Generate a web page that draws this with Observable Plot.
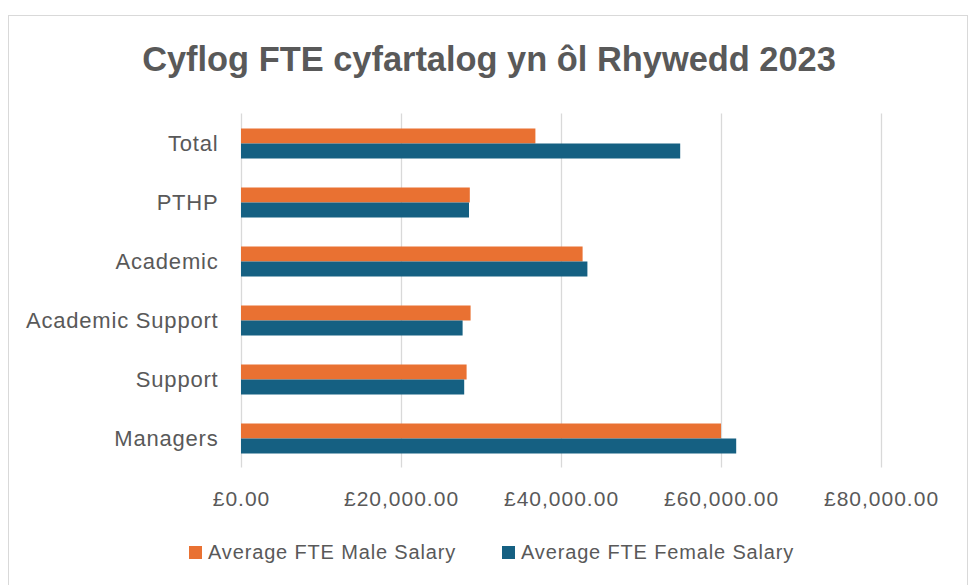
<!DOCTYPE html>
<html>
<head>
<meta charset="utf-8">
<script src="https://cdn.jsdelivr.net/npm/d3@7"></script>
<script src="https://cdn.jsdelivr.net/npm/@observablehq/plot@0.6"></script>
<style>
  html, body { margin: 0; padding: 0; background: #fff; width: 970px; height: 585px; overflow: hidden; }
  body { font-family: "Liberation Sans", Arial, sans-serif; color: #595959; position: relative; }
  #frame { position: absolute; left: 8px; top: 15px; width: 960px; height: 600px; border: 1px solid #d9d9d9; box-sizing: border-box; }
  #title { position: absolute; left: 0; top: 42px; width: 978px; text-align: center; font-size: 34.4px; line-height: 34px; font-weight: bold; color: #595959; }
  #chart { position: absolute; left: 0; top: 100px; }
  #legend { position: absolute; top: 540px; left: 0; width: 970px; height: 24px; font-size: 20px; line-height: 24px; letter-spacing: 0.85px; color: #595959; }
  .item { position: absolute; top: 0; display: flex; align-items: center; }
  .sw { width: 13px; height: 13px; margin-right: 6px; }
  #chart svg g[aria-label="x-axis tick label"] text { letter-spacing: 1px; }
  #chart svg g[aria-label="y-axis tick label"] text { letter-spacing: 0.8px; }
</style>
</head>
<body>
<div id="frame"></div>
<div id="title">Cyflog FTE cyfartalog yn ôl Rhywedd 2023</div>
<div id="chart"></div>
<div id="legend"></div>
<script>
const categories = ["Total", "PTHP", "Academic", "Academic Support", "Support", "Managers"];
const maleSalary = [36800, 28600, 42700, 28700, 28200, 60000];
const femaleSalary = [54900, 28500, 43300, 27700, 27900, 61900];
const seriesNames = ["Average FTE Male Salary", "Average FTE Female Salary"];
const seriesColors = ["#E97132", "#156082"];
const xTicks = [0, 20000, 40000, 60000, 80000];

const maleRows = categories.map((c, i) => ({category: c, value: maleSalary[i]}));
const femaleRows = categories.map((c, i) => ({category: c, value: femaleSalary[i]}));
const fmt = d => "£" + d3.format(",.2f")(d);

const chart = Plot.plot({
  width: 970,
  height: 420,
  marginTop: 13.5,
  marginBottom: 52.5,
  marginLeft: 241,
  marginRight: 89,
  style: {fontFamily: "'Liberation Sans', Arial, sans-serif", color: "#595959", background: "transparent"},
  x: {domain: [0, 80000], axis: null},
  y: {domain: categories, padding: 0, axis: null},
  marks: [
    Plot.ruleX(xTicks, {x: d => d, stroke: "#d9d9d9", strokeWidth: 1.3}),
    Plot.barX(maleRows, {y: "category", x: "value", fill: seriesColors[0], insetTop: 14.5, insetBottom: 29.5}),
    Plot.barX(femaleRows, {y: "category", x: "value", fill: seriesColors[1], insetTop: 29.5, insetBottom: 14.5}),
    Plot.axisX({ticks: xTicks, tickFormat: fmt, tickSize: 0, tickPadding: 23, fontSize: 21, label: null, fill: "#595959"}),
    Plot.axisY({tickSize: 0, tickPadding: 23, fontSize: 22, label: null, fill: "#595959"})
  ]
});
document.getElementById("chart").appendChild(chart);

const legend = document.getElementById("legend");
const lx = [189, 502];
seriesNames.forEach((n, i) => {
  const it = document.createElement("div");
  it.className = "item";
  it.style.left = lx[i] + "px";
  const sw = document.createElement("div");
  sw.className = "sw";
  sw.style.background = seriesColors[i];
  const t = document.createElement("span");
  t.textContent = n;
  it.appendChild(sw);
  it.appendChild(t);
  legend.appendChild(it);
});
</script>
</body>
</html>
